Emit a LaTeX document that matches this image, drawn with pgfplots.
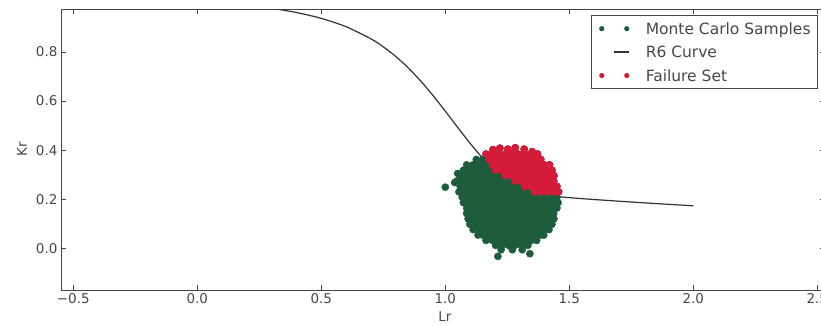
\documentclass[border=0pt]{standalone}
\usepackage{pgfplots}
\pgfplotsset{compat=1.18}
\usepackage{pgfplotstable}
\usepackage{fontspec}
\setmainfont{DejaVu Sans}
\definecolor{mcgreen}{RGB}{28,92,58}
\definecolor{fsred}{RGB}{214,26,58}
\definecolor{axgray}{RGB}{70,70,70}

\pgfplotstableread{
x y
0.00 1.0000
0.10 0.9975
0.20 0.9901
0.30 0.9779
0.40 0.9606
0.50 0.9367
0.60 0.9028
0.70 0.8535
0.75 0.8208
0.80 0.7817
0.85 0.7356
0.90 0.6824
0.95 0.6229
1.00 0.5586
1.05 0.4924
1.10 0.4277
1.15 0.3683
1.20 0.3177
1.25 0.2780
1.30 0.2493
1.35 0.2304
1.40 0.2186
1.45 0.2113
1.50 0.2063
1.60 0.1987
1.70 0.1919
1.80 0.1853
1.90 0.1791
2.00 0.1732
}\rsix

\begin{document}
\begin{tikzpicture}
\useasboundingbox (-61pt,-35pt) rectangle (760pt,290pt);
\clip (-61pt,-35pt) rectangle (760pt,290pt);
\begin{axis}[
  at={(0pt,0pt)}, anchor=south west,
  scale only axis, width=764pt, height=281pt,
  xmin=-0.5496, xmax=2.531, ymin=-0.17, ymax=0.975,
  xtick={-0.5,0,0.5,1,1.5,2,2.5},
  xticklabels={−0.5,0.0,0.5,1.0,1.5,2.0,2.5},
  ytick={0,0.2,0.4,0.6,0.8},
  yticklabels={0.0,0.2,0.4,0.6,0.8},
  tick align=inside, major tick length=5pt,
  major tick style={axgray, line width=0.8pt},
  axis line style={axgray, line width=1pt},
  tick label style={font=\fontsize{13.5}{16}\selectfont, text=black!72},
  xlabel={Lr}, ylabel={Kr},
  label style={font=\fontsize{13.5}{16}\selectfont, text=black!72},
  xlabel style={at={(axis description cs:0.5026,-0.0961)}, anchor=center},
  ylabel style={at={(axis description cs:-0.051,0.5)}, anchor=center},
  legend style={at={(0.9908,0.9786)}, anchor=north east, draw=axgray, line width=0.8pt,
    fill=white, font=\fontsize{15.5}{18.6}\selectfont, text=black!72,
    inner xsep=5pt, inner ysep=4pt, row sep=4.9pt, column sep=0pt},
  legend cell align=left,
]
\addplot[only marks, mark=*, mark size=3.6pt, color=mcgreen,
  legend image code/.code={
    \path[draw=none,fill=none] (0pt,0pt) rectangle (47pt,0.1pt);
    \fill[mcgreen,draw=none] (5pt,0pt) circle (2.6pt);
    \fill[mcgreen,draw=none] (30pt,0pt) circle (2.6pt);}]
  coordinates {
  (1.192,0.402) (1.220,0.408) (1.252,0.404) (1.282,0.410) (1.318,0.404) (1.350,0.394)
  (1.164,0.384) (1.190,0.384) (1.216,0.384) (1.242,0.384) (1.268,0.384) (1.294,0.384) (1.320,0.384) (1.346,0.384) (1.372,0.384)
  (1.125,0.362) (1.151,0.362) (1.177,0.362) (1.203,0.362) (1.229,0.362) (1.255,0.362) (1.281,0.362) (1.307,0.362) (1.333,0.362) (1.359,0.362) (1.385,0.362)
  (1.086,0.340) (1.112,0.340) (1.138,0.340) (1.164,0.340) (1.190,0.340) (1.216,0.340) (1.242,0.340) (1.268,0.340) (1.294,0.340) (1.320,0.340) (1.346,0.340) (1.372,0.340) (1.398,0.340) (1.420,0.340)
  (1.073,0.318) (1.099,0.318) (1.125,0.318) (1.151,0.318) (1.177,0.318) (1.203,0.318) (1.229,0.318) (1.255,0.318) (1.281,0.318) (1.307,0.318) (1.333,0.318) (1.359,0.318) (1.385,0.318) (1.411,0.318) (1.430,0.318)
  (1.060,0.296) (1.086,0.296) (1.112,0.296) (1.138,0.296) (1.164,0.296) (1.190,0.296) (1.216,0.296) (1.242,0.296) (1.268,0.296) (1.294,0.296) (1.320,0.296) (1.346,0.296) (1.372,0.296) (1.398,0.296) (1.424,0.296) (1.438,0.296)
  (1.047,0.274) (1.073,0.274) (1.099,0.274) (1.125,0.274) (1.151,0.274) (1.177,0.274) (1.203,0.274) (1.229,0.274) (1.255,0.274) (1.281,0.274) (1.307,0.274) (1.333,0.274) (1.359,0.274) (1.385,0.274) (1.411,0.274) (1.437,0.274)
  (1.060,0.252) (1.086,0.252) (1.112,0.252) (1.138,0.252) (1.164,0.252) (1.190,0.252) (1.216,0.252) (1.242,0.252) (1.268,0.252) (1.294,0.252) (1.320,0.252) (1.346,0.252) (1.372,0.252) (1.398,0.252) (1.424,0.252) (1.450,0.252)
  (1.055,0.230) (1.073,0.230) (1.099,0.230) (1.125,0.230) (1.151,0.230) (1.177,0.230) (1.203,0.230) (1.229,0.230) (1.255,0.230) (1.281,0.230) (1.307,0.230) (1.333,0.230) (1.359,0.230) (1.385,0.230) (1.411,0.230) (1.437,0.230) (1.457,0.230)
  (1.068,0.208) (1.086,0.208) (1.112,0.208) (1.138,0.208) (1.164,0.208) (1.190,0.208) (1.216,0.208) (1.242,0.208) (1.268,0.208) (1.294,0.208) (1.320,0.208) (1.346,0.208) (1.372,0.208) (1.398,0.208) (1.424,0.208) (1.450,0.208)
  (1.073,0.186) (1.099,0.186) (1.125,0.186) (1.151,0.186) (1.177,0.186) (1.203,0.186) (1.229,0.186) (1.255,0.186) (1.281,0.186) (1.307,0.186) (1.333,0.186) (1.359,0.186) (1.385,0.186) (1.411,0.186) (1.437,0.186) (1.455,0.186)
  (1.086,0.164) (1.112,0.164) (1.138,0.164) (1.164,0.164) (1.190,0.164) (1.216,0.164) (1.242,0.164) (1.268,0.164) (1.294,0.164) (1.320,0.164) (1.346,0.164) (1.372,0.164) (1.398,0.164) (1.424,0.164) (1.450,0.164)
  (1.086,0.142) (1.099,0.142) (1.125,0.142) (1.151,0.142) (1.177,0.142) (1.203,0.142) (1.229,0.142) (1.255,0.142) (1.281,0.142) (1.307,0.142) (1.333,0.142) (1.359,0.142) (1.385,0.142) (1.411,0.142) (1.437,0.142)
  (1.092,0.120) (1.112,0.120) (1.138,0.120) (1.164,0.120) (1.190,0.120) (1.216,0.120) (1.242,0.120) (1.268,0.120) (1.294,0.120) (1.320,0.120) (1.346,0.120) (1.372,0.120) (1.398,0.120) (1.424,0.120) (1.438,0.120)
  (1.099,0.098) (1.125,0.098) (1.151,0.098) (1.177,0.098) (1.203,0.098) (1.229,0.098) (1.255,0.098) (1.281,0.098) (1.307,0.098) (1.333,0.098) (1.359,0.098) (1.385,0.098) (1.411,0.098) (1.430,0.098)
  (1.112,0.076) (1.138,0.076) (1.164,0.076) (1.190,0.076) (1.216,0.076) (1.242,0.076) (1.268,0.076) (1.294,0.076) (1.320,0.076) (1.346,0.076) (1.372,0.076) (1.398,0.076) (1.418,0.076)
  (1.132,0.054) (1.151,0.054) (1.177,0.054) (1.203,0.054) (1.229,0.054) (1.255,0.054) (1.281,0.054) (1.307,0.054) (1.333,0.054) (1.359,0.054) (1.385,0.054) (1.397,0.054)
  (1.164,0.032) (1.190,0.032) (1.216,0.032) (1.242,0.032) (1.268,0.032) (1.294,0.032) (1.320,0.032) (1.346,0.032) (1.368,0.032)
  (1.203,0.012) (1.229,0.012) (1.255,0.012) (1.281,0.012) (1.307,0.012) (1.333,0.012)
  (1.225,-0.006) (1.270,-0.006) (1.310,-0.006)
  (1.212,-0.033) (1.341,-0.022) (1.000,0.249) (1.038,0.268) (1.050,0.305)
  };
\addlegendentry{\strut Monte Carlo Samples\hspace{3pt}}
\addplot[color=black!80, line width=1.2pt, smooth,
  legend image code/.code={
    \path[draw=none,fill=none] (0pt,0pt) rectangle (47pt,0.1pt);
    \draw[black!80, line width=1.2pt] (17pt,0pt) -- (32pt,0pt);}]
  table[x=x,y=y] {\rsix};
\addlegendentry{\strut R6 Curve}
\addplot[only marks, mark=*, mark size=3.6pt, color=fsred,
  legend image code/.code={
    \path[draw=none,fill=none] (0pt,0pt) rectangle (47pt,0.1pt);
    \fill[fsred,draw=none] (5pt,0pt) circle (2.6pt);
    \fill[fsred,draw=none] (30pt,0pt) circle (2.6pt);}]
  coordinates {
  (1.192,0.402) (1.220,0.408) (1.252,0.404) (1.282,0.410) (1.318,0.404) (1.350,0.394)
  (1.164,0.384) (1.190,0.384) (1.216,0.384) (1.242,0.384) (1.268,0.384) (1.294,0.384) (1.320,0.384) (1.346,0.384) (1.372,0.384)
  (1.177,0.362) (1.203,0.362) (1.229,0.362) (1.255,0.362) (1.281,0.362) (1.307,0.362) (1.333,0.362) (1.359,0.362) (1.385,0.362)
  (1.190,0.340) (1.216,0.340) (1.242,0.340) (1.268,0.340) (1.294,0.340) (1.320,0.340) (1.346,0.340) (1.372,0.340) (1.398,0.340) (1.420,0.340)
  (1.203,0.318) (1.229,0.318) (1.255,0.318) (1.281,0.318) (1.307,0.318) (1.333,0.318) (1.359,0.318) (1.385,0.318) (1.411,0.318) (1.430,0.318)
  (1.242,0.296) (1.268,0.296) (1.294,0.296) (1.320,0.296) (1.346,0.296) (1.372,0.296) (1.398,0.296) (1.424,0.296) (1.438,0.296)
  (1.281,0.274) (1.307,0.274) (1.333,0.274) (1.359,0.274) (1.385,0.274) (1.411,0.274) (1.437,0.274)
  (1.320,0.252) (1.346,0.252) (1.372,0.252) (1.398,0.252) (1.424,0.252) (1.450,0.252)
  (1.359,0.230) (1.385,0.230) (1.411,0.230) (1.437,0.230) (1.457,0.230)
  };
\addlegendentry{\strut Failure Set}
\end{axis}
\end{tikzpicture}
\end{document}
